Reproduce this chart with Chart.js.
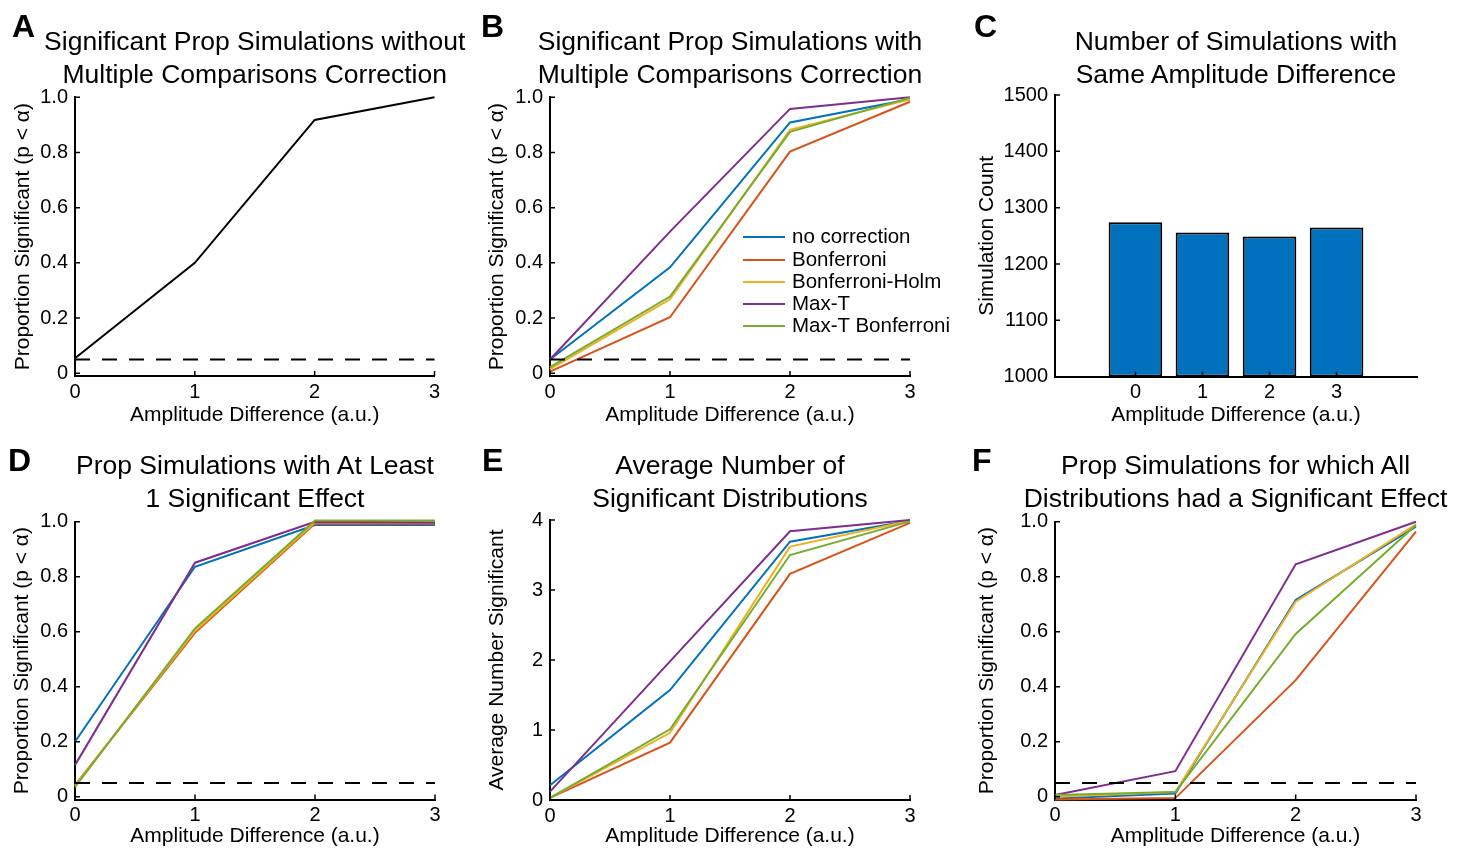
<!DOCTYPE html>
<html>
<head>
<meta charset="utf-8">
<script src="https://cdn.jsdelivr.net/npm/chart.js@4.4.0/dist/chart.umd.min.js"></script>
<style>
  body { margin:0; background:#fff; width:1463px; height:848px; overflow:hidden; position:relative;
         font-family:"Liberation Sans", Arial, sans-serif; color:#000; }
  canvas { position:absolute; }
  .title { position:absolute; width:560px; text-align:center; font-size:26.5px; line-height:33px; white-space:nowrap; }
  .letter { position:absolute; font-size:32px; font-weight:bold; line-height:1; }
  .lg-line { position:absolute; left:743px; width:42px; height:2px; }
  .lg-text { position:absolute; left:792px; font-size:20.5px; line-height:1; white-space:nowrap; }
</style>
</head>
<body>
<script>
// ---- data ----
const xVals = [0, 1, 2, 3];
const alphaX = [0, 3];
const alphaY = [0.05, 0.05];
const seriesNames = ['no correction', 'Bonferroni', 'Bonferroni-Holm', 'Max-T', 'Max-T Bonferroni'];
const seriesColors = ['#0072BD', '#D95319', '#EDB120', '#7E2F8E', '#77AC30'];

// A: no correction
const sigNoCorrection = [0.054, 0.40, 0.918, 1.0];

// B: with correction
const sigNoCorrB   = [0.05, 0.384, 0.909, 0.993];
const sigBonfB     = [0.006, 0.203, 0.803, 0.984];
const sigHolmB     = [0.015, 0.268, 0.882, 0.993];
const sigMaxTB     = [0.05, 0.513, 0.958, 1.0];
const sigMaxTBonfB = [0.022, 0.278, 0.875, 0.998];

// C: simulation counts
const barX = [0, 1, 2, 3];
const simCounts = [1274, 1256, 1249, 1265];

// D: at least 1 significant
const atLeastNoCorr   = [0.20, 0.836, 0.988, 0.988];
const atLeastBonf     = [0.042, 0.596, 0.993, 0.993];
const atLeastHolm     = [0.04, 0.603, 0.998, 0.998];
const atLeastMaxT     = [0.115, 0.851, 1.0, 0.997];
const atLeastMaxTBonf = [0.035, 0.612, 1.004, 1.004];

// E: average number significant
const avgNoCorr   = [0.21, 1.57, 3.69, 3.99];
const avgBonf     = [0.03, 0.82, 3.23, 3.96];
const avgHolm     = [0.03, 0.96, 3.62, 3.99];
const avgMaxT     = [0.12, 1.98, 3.84, 4.0];
const avgMaxTBonf = [0.03, 1.01, 3.50, 3.98];

// F: all distributions significant
const allNoCorr   = [-0.006, 0.012, 0.715, 0.982];
const allBonf     = [-0.01, -0.005, 0.424, 0.964];
const allHolm     = [0.0, 0.017, 0.709, 0.99];
const allMaxT     = [0.006, 0.093, 0.845, 1.0];
const allMaxTBonf = [0.006, 0.017, 0.592, 0.988];

const propTicks = [0, 0.2, 0.4, 0.6, 0.8, 1.0];
const avgTicks = [0, 1, 2, 3, 4];
const countTicks = [1000, 1100, 1200, 1300, 1400, 1500];

Chart.defaults.font.family = '"Liberation Sans", Arial, sans-serif';
Chart.defaults.color = '#000';

const inwardTicks = {
  id: 'inwardTicks',
  afterDraw(chart) {
    const { ctx, chartArea, scales } = chart;
    ctx.save();
    ctx.strokeStyle = '#000';
    ctx.lineWidth = 1.5;
    ctx.beginPath();
    scales.x.ticks.forEach(t => {
      const px = scales.x.getPixelForValue(t.value);
      ctx.moveTo(px, chartArea.bottom);
      ctx.lineTo(px, chartArea.bottom - 5);
    });
    scales.y.ticks.forEach(t => {
      const py = scales.y.getPixelForValue(t.value);
      ctx.moveTo(chartArea.left, py);
      ctx.lineTo(chartArea.left + 5, py);
    });
    ctx.stroke();
    ctx.restore();
  }
};

function pts(xs, ys) { return xs.map((x, i) => ({ x: x, y: ys[i] })); }

function lineSet(ys, i) {
  return { data: pts(xVals, ys), borderColor: seriesColors[i], borderWidth: 2, pointRadius: 0,
           tension: 0, fill: false, clip: false, order: 10 - i };
}
function alphaSet() {
  return { data: pts(alphaX, alphaY), borderColor: '#000', borderWidth: 2, borderDash: [15, 12],
           pointRadius: 0, fill: false, clip: false, order: 0 };
}

function addText(cls, left, top, html, extra) {
  const d = document.createElement('div');
  d.className = cls;
  d.style.left = left + 'px';
  d.style.top = top + 'px';
  d.innerHTML = html;
  if (extra) Object.assign(d.style, extra);
  document.body.appendChild(d);
}

function makePanel(p) {
  const lhT = 21 * 1.2;
  const cLeft = Math.round(p.yTitleX - 4 - lhT / 2);
  const cTop = Math.round(p.T - 20);
  const cRight = Math.round(p.R + 30);
  const cBottom = Math.round(p.xTitleY + lhT / 2 + 4);
  const canvas = document.createElement('canvas');
  canvas.width = cRight - cLeft;
  canvas.height = cBottom - cTop;
  canvas.style.left = cLeft + 'px';
  canvas.style.top = cTop + 'px';
  document.body.appendChild(canvas);
  const yWidth = p.L - cLeft;
  const xHeight = cBottom - p.B;

  // title + panel letter
  const cx = (p.L + p.R) / 2;
  addText('title', cx - 280, p.titleTop, p.title.join('<br>'));
  addText('letter', p.letterX, p.letterTop, p.letter);

  new Chart(canvas, {
    type: p.type,
    data: { datasets: p.datasets },
    plugins: [inwardTicks],
    options: {
      responsive: false,
      animation: false,
      devicePixelRatio: 1,
      layout: { padding: { left: 0, top: p.T - cTop, right: cRight - p.R, bottom: 0 } },
      plugins: { legend: { display: false }, tooltip: { enabled: false } },
      scales: {
        x: {
          type: 'linear', min: p.xMin, max: p.xMax, offset: false,
          afterBuildTicks: s => { s.ticks = p.xTicks.map(v => ({ value: v })); },
          afterFit: s => { s.height = xHeight; },
          grid: { display: false, drawTicks: false },
          border: { color: '#000', width: 2 },
          ticks: { padding: 4, font: { size: 20 }, color: '#000', maxRotation: 0, autoSkip: false,
                   callback: v => String(v) },
          title: { display: true, text: 'Amplitude Difference (a.u.)', font: { size: 21 }, color: '#000',
                   padding: { top: 0, bottom: 4 } }
        },
        y: {
          type: 'linear', min: p.yMin, max: p.yMax,
          afterBuildTicks: s => { s.ticks = p.yTicks.map(v => ({ value: v })); },
          afterFit: s => { s.width = yWidth; },
          grid: { display: false, drawTicks: false },
          border: { color: '#000', width: 2 },
          ticks: { padding: 7, font: { size: 20 }, color: '#000', autoSkip: false, callback: p.yFmt },
          title: { display: true, text: p.yTitle, font: { size: 21 }, color: '#000',
                   padding: { top: 4, bottom: 0 } }
        }
      }
    }
  });
}

const fmtProp = v => (v === 0 ? '0' : v.toFixed(1));
const fmtInt = v => String(v);
const propTitle = 'Proportion Significant (p < \u03b1)';

makePanel({ letter: 'A', letterX: 12, letterTop: 10, titleTop: 24.5,
  title: ['Significant Prop Simulations without', 'Multiple Comparisons Correction'],
  type: 'line', L: 75, T: 97.3, R: 434.5, B: 376, yTitleX: 24, xTitleY: 415,
  xMin: 0, xMax: 3, xTicks: xVals, yMin: -0.01, yMax: 1.0, yTicks: propTicks, yFmt: fmtProp, yTitle: propTitle,
  datasets: [
    { data: pts(xVals, sigNoCorrection), borderColor: '#000', borderWidth: 2, pointRadius: 0, tension: 0, clip: false, order: 1 },
    alphaSet()
  ] });

makePanel({ letter: 'B', letterX: 481, letterTop: 10, titleTop: 24.5,
  title: ['Significant Prop Simulations with', 'Multiple Comparisons Correction'],
  type: 'line', L: 550, T: 97.3, R: 910, B: 376, yTitleX: 498, xTitleY: 415,
  xMin: 0, xMax: 3, xTicks: xVals, yMin: -0.01, yMax: 1.0, yTicks: propTicks, yFmt: fmtProp, yTitle: propTitle,
  datasets: [sigNoCorrB, sigBonfB, sigHolmB, sigMaxTB, sigMaxTBonfB].map(lineSet).concat([alphaSet()]) });

makePanel({ letter: 'C', letterX: 974, letterTop: 10, titleTop: 25,
  title: ['Number of Simulations with', 'Same Amplitude Difference'],
  type: 'bar', L: 1055, T: 95, R: 1417, B: 376.7, yTitleX: 988, xTitleY: 415,
  xMin: -1.2, xMax: 4.2, xTicks: barX, yMin: 1000, yMax: 1500, yTicks: countTicks, yFmt: fmtInt, yTitle: 'Simulation Count',
  datasets: [{ data: pts(barX, simCounts), backgroundColor: '#0072BD', borderColor: '#000', borderWidth: 2,
               borderSkipped: false, barPercentage: 0.8, categoryPercentage: 1.0, base: 1000 }] });

makePanel({ letter: 'D', letterX: 8, letterTop: 444, titleTop: 448.5,
  title: ['Prop Simulations with At Least', '1 Significant Effect'],
  type: 'line', L: 75, T: 521.7, R: 435, B: 799.5, yTitleX: 23, xTitleY: 836,
  xMin: 0, xMax: 3, xTicks: xVals, yMin: -0.01, yMax: 1.0, yTicks: propTicks, yFmt: fmtProp, yTitle: propTitle,
  datasets: [atLeastNoCorr, atLeastBonf, atLeastHolm, atLeastMaxT, atLeastMaxTBonf].map(lineSet).concat([alphaSet()]) });

makePanel({ letter: 'E', letterX: 482, letterTop: 444, titleTop: 448.5,
  title: ['Average Number of', 'Significant Distributions'],
  type: 'line', L: 550, T: 520, R: 910, B: 800, yTitleX: 498, xTitleY: 836,
  xMin: 0, xMax: 3, xTicks: xVals, yMin: 0, yMax: 4, yTicks: avgTicks, yFmt: fmtInt, yTitle: 'Average Number Significant',
  datasets: [avgNoCorr, avgBonf, avgHolm, avgMaxT, avgMaxTBonf].map(lineSet) });

makePanel({ letter: 'F', letterX: 972, letterTop: 444, titleTop: 448.5,
  title: ['Prop Simulations for which All', 'Distributions had a Significant Effect'],
  type: 'line', L: 1055, T: 521.7, R: 1416, B: 799.5, yTitleX: 988, xTitleY: 836,
  xMin: 0, xMax: 3, xTicks: xVals, yMin: -0.01, yMax: 1.0, yTicks: propTicks, yFmt: fmtProp, yTitle: propTitle,
  datasets: [allNoCorr, allBonf, allHolm, allMaxT, allMaxTBonf].map(lineSet).concat([alphaSet()]) });

// legend for panel B
const legendY = [236.7, 259.5, 281.7, 303.5, 325.5];
seriesNames.forEach((name, i) => {
  addText('lg-line', 743, legendY[i] - 1, '', { background: seriesColors[i] });
  addText('lg-text', 792, legendY[i] - 10.4, name);
});
</script>
</body>
</html>
